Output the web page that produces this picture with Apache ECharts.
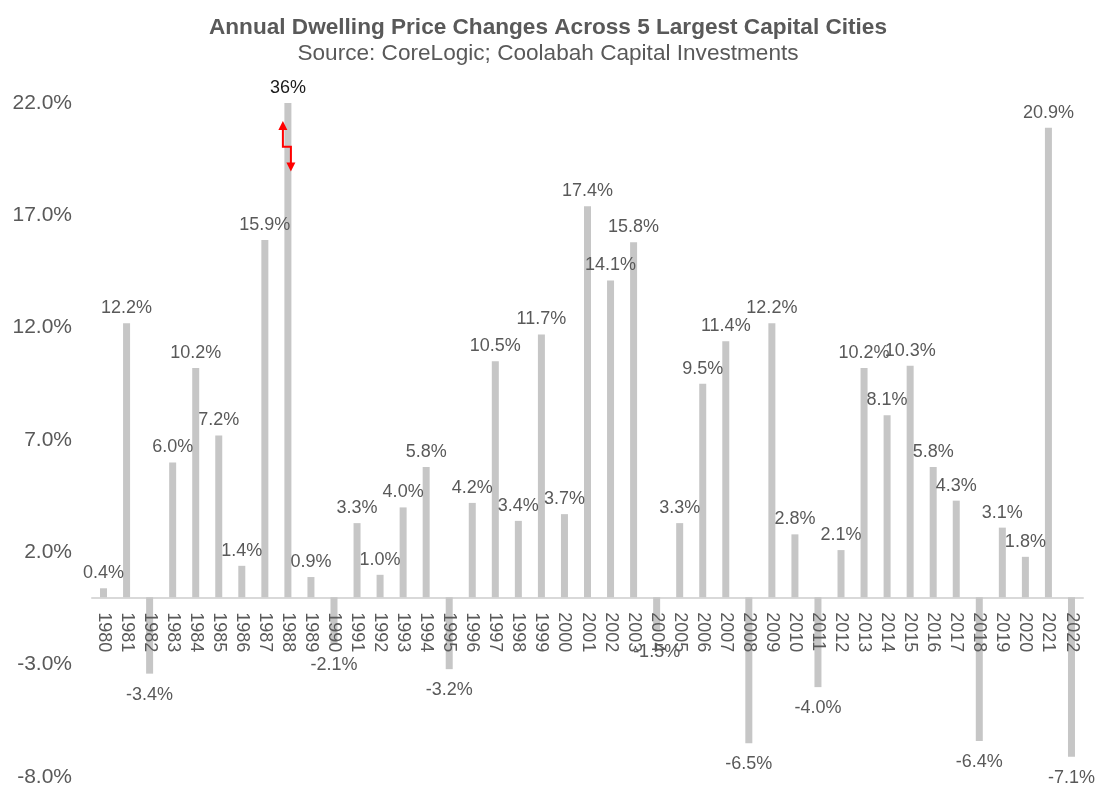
<!DOCTYPE html>
<html>
<head>
<meta charset="utf-8">
<script src="https://cdn.jsdelivr.net/npm/echarts@6/dist/echarts.min.js"></script>
<style>html,body{margin:0;padding:0;background:#fff;}#c{width:1096px;height:787px;}</style>
</head>
<body>
<div id="c"></div>
<script>
var years = ['1980','1981','1982','1983','1984','1985','1986','1987','1988','1989','1990','1991','1992','1993','1994','1995','1996','1997','1998','1999','2000','2001','2002','2003','2004','2005','2006','2007','2008','2009','2010','2011','2012','2013','2014','2015','2016','2017','2018','2019','2020','2021','2022'];
var changes = [0.4,12.2,-3.4,6.0,10.2,7.2,1.4,15.9,36,0.9,-2.1,3.3,1.0,4.0,5.8,-3.2,4.2,10.5,3.4,11.7,3.7,17.4,14.1,15.8,-1.5,3.3,9.5,11.4,-6.5,12.2,2.8,-4.0,2.1,10.2,8.1,10.3,5.8,4.3,-6.4,3.1,1.8,20.9,-7.1];
var yTicks = [-8, -3, 2, 7, 12, 17, 22];

var axisMin = yTicks[0], axisMax = yTicks[yTicks.length - 1];
var tickStep = yTicks[1] - yTicks[0];
var FONT = 'Liberation Sans, Arial, sans-serif';

var seriesData = changes.map(function (v) {
  var clipped = v > axisMax;
  return {
    value: clipped ? axisMax : v,
    real: v,
    label: {
      position: v < 0 ? 'bottom' : 'top',
      distance: v < 0 ? 12 : 6,
      color: clipped ? '#1a1a1a' : '#595959'
    }
  };
});

var chart = echarts.init(document.getElementById('c'));
chart.setOption({
  animation: false,
  backgroundColor: '#ffffff',
  title: {
    text: 'Annual Dwelling Price Changes Across 5 Largest Capital Cities',
    subtext: 'Source: CoreLogic; Coolabah Capital Investments',
    left: 'center',
    top: 11,
    itemGap: 3,
    textStyle: { fontFamily: FONT, fontSize: 22.6, fontWeight: 'bold', color: '#595959' },
    subtextStyle: { fontFamily: FONT, fontSize: 22.6, color: '#595959' }
  },
  grid: { left: 92, right: 13, top: 103, bottom: 10, containLabel: false, outerBoundsMode: 'none' },
  xAxis: {
    type: 'category',
    data: years,
    axisLine: { show: true, onZero: true, lineStyle: { color: '#d9d9d9', width: 2 } },
    axisTick: { show: false },
    axisLabel: { show: false },
    splitLine: { show: false }
  },
  yAxis: {
    type: 'value',
    min: axisMin,
    max: axisMax,
    interval: tickStep,
    axisLine: { show: false },
    axisTick: { show: false },
    splitLine: { show: false },
    axisLabel: {
      margin: 20,
      fontFamily: FONT,
      fontSize: 21,
      color: '#595959',
      formatter: function (v) { return v.toFixed(1) + '%'; }
    }
  },
  series: [{
    type: 'bar',
    data: seriesData,
    barWidth: 7,
    itemStyle: { color: '#c6c6c6' },
    label: {
      show: true,
      fontFamily: FONT,
      fontSize: 18,
      formatter: function (p) {
        var r = p.data.real;
        return r > axisMax ? Math.round(r) + '%' : r.toFixed(1) + '%';
      }
    }
  }, {
    // category labels drawn along the zero line (rotated, reading downward)
    type: 'custom',
    z: 10,
    silent: true,
    data: years.map(function (y) { return [y, 0]; }),
    renderItem: function (params, api) {
      var p = api.coord([api.value(0), 0]);
      return {
        type: 'text',
        x: p[0],
        y: p[1] + 15,
        rotation: -Math.PI / 2,
        style: {
          text: years[params.dataIndex],
          fontFamily: FONT,
          fontSize: 18,
          fill: '#595959',
          align: 'left',
          verticalAlign: 'middle'
        }
      };
    }
  }]
});

// break marker on the clipped bar
var graphics = [];
changes.forEach(function (v, i) {
  if (v <= axisMax) return;
  var pTop = chart.convertToPixel({ gridIndex: 0 }, [years[i], 21.2]);
  var pMid = chart.convertToPixel({ gridIndex: 0 }, [years[i], 20.05]);
  var pBot = chart.convertToPixel({ gridIndex: 0 }, [years[i], 18.95]);
  var xl = pTop[0] - 5, xr = pTop[0] + 3;
  graphics.push({
    type: 'polyline', z: 100,
    shape: { points: [[xl, pTop[1] + 8], [xl, pMid[1]], [xr, pMid[1]], [xr, pBot[1] - 8]] },
    style: { stroke: '#ff0000', lineWidth: 2, fill: null }
  });
  graphics.push({
    type: 'polygon', z: 100,
    shape: { points: [[xl - 4.5, pTop[1] + 9], [xl + 4.5, pTop[1] + 9], [xl, pTop[1]]] },
    style: { fill: '#ff0000' }
  });
  graphics.push({
    type: 'polygon', z: 100,
    shape: { points: [[xr - 4.5, pBot[1] - 9], [xr + 4.5, pBot[1] - 9], [xr, pBot[1]]] },
    style: { fill: '#ff0000' }
  });
});
chart.setOption({ graphic: graphics });
</script>
</body>
</html>
